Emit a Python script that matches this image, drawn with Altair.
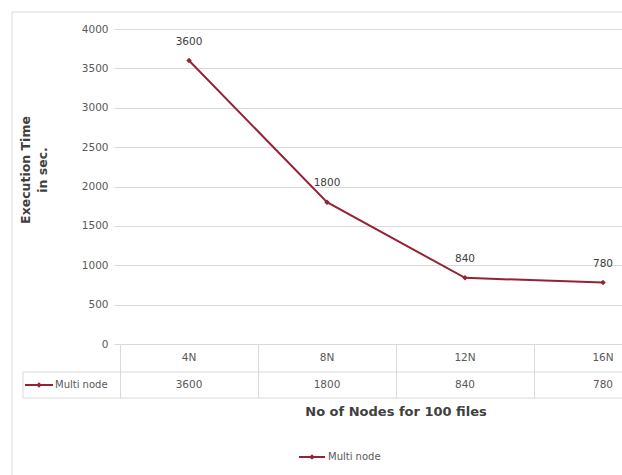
import altair as alt
import pandas as pd

categories = ["4N", "8N", "12N", "16N"]
values = [3600, 1800, 840, 780]
series_name = "Multi node"
x_title = "No of Nodes for 100 files"
y_title_lines = ["Execution Time", "in sec."]
y_ticks = [0, 500, 1000, 1500, 2000, 2500, 3000, 3500, 4000]

df = pd.DataFrame({"cat": categories, "val": values, "series": [series_name] * len(values)})

LINE = "#952235"
GRID = "#d9d9d9"
TXT = "#595959"
FONT = "DejaVu Sans"

W, H = 502, 315

xenc = alt.X(
    "cat:N",
    sort=categories,
    scale=alt.Scale(type="band", range=[0, 552], paddingInner=0, paddingOuter=0),
    axis=alt.Axis(
        title=None, labels=False, domain=False, grid=False, ticks=True,
        tickBand="extent", tickSize=54, tickColor=GRID, tickWidth=1,
    ),
)
yenc = alt.Y(
    "val:Q",
    scale=alt.Scale(domain=[0, 4000]),
    axis=alt.Axis(
        title=None, values=y_ticks, format="d", domain=False, grid=True, gridColor=GRID,
        ticks=True, tickSize=6, tickColor=GRID, labelColor=TXT, labelFontSize=10.5,
        labelPadding=6, labelFont=FONT,
    ),
)

base = alt.Chart(df)

line = base.mark_line(color=LINE, strokeWidth=2).encode(x=xenc, y=yenc)
pts = base.mark_point(shape="diamond", filled=True, color=LINE, size=30, opacity=1).encode(x=xenc, y=yenc)
labels = base.mark_text(dy=-19, fontSize=10.5, color="#404040", font=FONT, baseline="middle").encode(
    x=xenc, y=yenc, text="val:Q"
)

cat_text = base.mark_text(fontSize=10.5, color=TXT, font=FONT, baseline="middle").encode(
    x=xenc, y=alt.value(329), text="cat:N"
)
val_text = base.mark_text(fontSize=10.5, color=TXT, font=FONT, baseline="middle").encode(
    x=xenc, y=alt.value(356), text="val:Q"
)

one = alt.Chart(pd.DataFrame({"series": [series_name]}))

hr1 = one.mark_rule(color=GRID, strokeWidth=1).encode(x=alt.value(-97), x2=alt.value(W), y=alt.value(343))
hr2 = one.mark_rule(color=GRID, strokeWidth=1).encode(x=alt.value(-97), x2=alt.value(W), y=alt.value(369))
vr = one.mark_rule(color=GRID, strokeWidth=1).encode(x=alt.value(-97), y=alt.value(343), y2=alt.value(369))

tleg_line = one.mark_rule(color=LINE, strokeWidth=2).encode(x=alt.value(-95), x2=alt.value(-67), y=alt.value(356))
tleg_pt = one.mark_point(shape="diamond", filled=True, color=LINE, size=30, opacity=1).encode(
    x=alt.value(-81), y=alt.value(356)
)
tleg_txt = one.mark_text(align="left", baseline="middle", fontSize=10, color=TXT, font=FONT).encode(
    x=alt.value(-65), y=alt.value(356), text="series:N"
)

bleg_line = one.mark_rule(color=LINE, strokeWidth=2).encode(x=alt.value(179), x2=alt.value(205), y=alt.value(428))
bleg_pt = one.mark_point(shape="diamond", filled=True, color=LINE, size=30, opacity=1).encode(
    x=alt.value(192), y=alt.value(428)
)
bleg_txt = one.mark_text(align="left", baseline="middle", fontSize=10, color=TXT, font=FONT).encode(
    x=alt.value(208), y=alt.value(428), text="series:N"
)

xt = one.mark_text(fontSize=13, fontWeight="bold", color="#404040", font=FONT, baseline="middle").encode(
    x=alt.value(276), y=alt.value(383), text=alt.value(x_title)
)
yt1 = one.mark_text(fontSize=12.5, fontWeight="bold", color="#404040", font=FONT, baseline="middle", angle=270).encode(
    x=alt.value(-94), y=alt.value(141), text=alt.value(y_title_lines[0])
)
yt2 = one.mark_text(fontSize=12.5, fontWeight="bold", color="#404040", font=FONT, baseline="middle", angle=270).encode(
    x=alt.value(-77), y=alt.value(141), text=alt.value(y_title_lines[1])
)

border_top = one.mark_rule(color=GRID, strokeWidth=1).encode(x=alt.value(-108), x2=alt.value(W), y=alt.value(-17))
border_left = one.mark_rule(color=GRID, strokeWidth=1).encode(x=alt.value(-108), y=alt.value(-17), y2=alt.value(460))

chart = alt.layer(
    border_top, border_left, hr1, hr2, vr,
    line, pts, labels, cat_text, val_text,
    tleg_line, tleg_pt, tleg_txt, bleg_line, bleg_pt, bleg_txt, xt, yt1, yt2,
).properties(
    width=W, height=H,
    autosize=alt.AutoSizeParams(type="none"),
    padding={"left": 120, "top": 29, "right": 0, "bottom": 131},
    background="white",
).configure_view(stroke=None)

chart.save("out.html", embed_options={"renderer": "svg", "actions": False})
